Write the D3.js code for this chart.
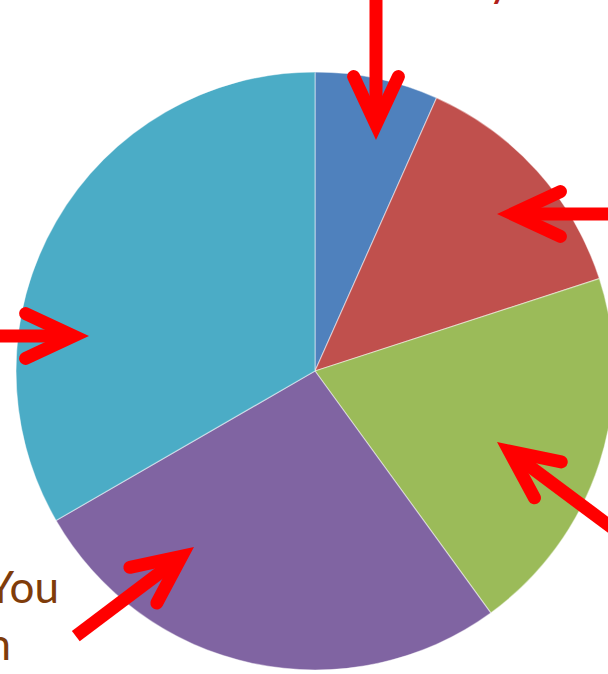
<!DOCTYPE html>
<html><head><meta charset="utf-8">
<script src="https://cdn.jsdelivr.net/npm/d3@7"></script>
<style>html,body{margin:0;padding:0;background:#fff;overflow:hidden}</style>
</head><body>
<svg id="c" width="608" height="674"></svg>
<script>
// Data
const categories = ["A", "B", "C", "D", "E"];
const values = [1, 2, 3, 4, 5];
const colors = ["#4F81BD", "#C0504D", "#9BBB59", "#8064A2", "#4BACC6"];
// Annotation arrows: tip point, pointing direction (deg, screen coords), shaft length
const arrowTips = [[376, 140], [497, 214], [89, 336], [497, 442], [194, 547]];
const arrowDirs = [90, 180, 0, 216.7, -37];
const arrowLens = [152, 130, 100, 160, 148];

const svg = d3.select("#c");
const cx = 315, cy = 371, r = 299;
const g = svg.append("g").attr("transform", `translate(${cx},${cy})`);
const pie = d3.pie().sort(null).value(d => d.v);
const arc = d3.arc().innerRadius(0).outerRadius(r);
const data = categories.map((c, i) => ({c, v: values[i], col: colors[i]}));
g.selectAll("path").data(pie(data)).join("path")
  .attr("d", arc).attr("fill", d => d.data.col)
  .attr("stroke", "rgba(255,255,255,0.45)").attr("stroke-width", 1.2);

// text fragments (clipped at the page edges, as in the reference)
svg.append("text").attr("x", 59).attr("y", 603).attr("text-anchor", "end")
  .attr("font-family", "Lato, 'Noto Sans', sans-serif").attr("font-size", 44)
  .attr("fill", "#7F3C0A").text("Thank You");
svg.append("text").attr("x", 11).attr("y", 660).attr("text-anchor", "end")
  .attr("font-family", "Lato, 'Noto Sans', sans-serif").attr("font-size", 44)
  .attr("fill", "#7F3C0A").text("Question");
svg.append("text").attr("x", 511).attr("y", -4).attr("text-anchor", "end")
  .attr("font-family", "Lato, 'Noto Sans', sans-serif").attr("font-size", 44)
  .attr("fill", "#B0201A").text("Many");

// arrows
const W = 13, armLen = 53, half = 25 * Math.PI / 180;
arrowTips.forEach((t, i) => {
  const a = arrowDirs[i] * Math.PI / 180;
  const ux = Math.cos(a), uy = Math.sin(a);
  const inset = (W / 2) / Math.sin(half);
  const vx = t[0] - ux * inset, vy = t[1] - uy * inset;
  const L = arrowLens[i];
  svg.append("line").attr("x1", t[0] - ux * L).attr("y1", t[1] - uy * L)
    .attr("x2", vx).attr("y2", vy).attr("stroke", "#FF0000").attr("stroke-width", W);
  const back = a + Math.PI;
  const p1 = [vx + armLen * Math.cos(back - half), vy + armLen * Math.sin(back - half)];
  const p2 = [vx + armLen * Math.cos(back + half), vy + armLen * Math.sin(back + half)];
  svg.append("path").attr("d", `M${p1}L${vx},${vy}L${p2}`)
    .attr("fill", "none").attr("stroke", "#FF0000").attr("stroke-width", W)
    .attr("stroke-linecap", "round").attr("stroke-linejoin", "miter");
});
</script>
</body></html>
